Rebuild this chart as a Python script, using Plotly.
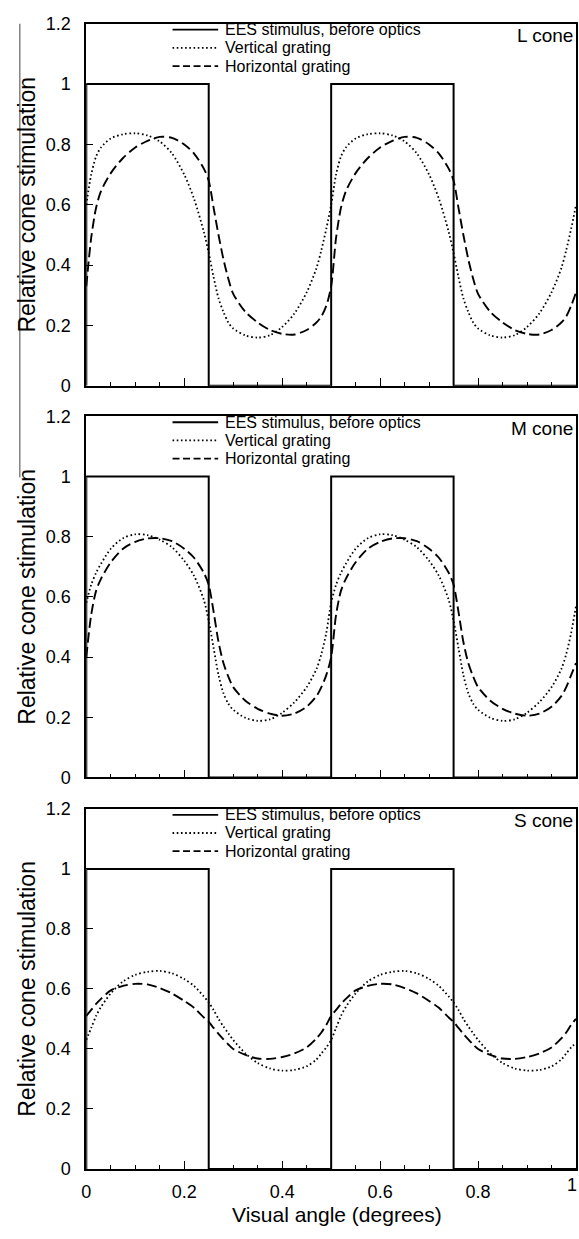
import plotly.graph_objects as go

# ---------------- data ----------------
ANGLE = [0, 0.01, 0.02, 0.03, 0.05, 0.075, 0.1, 0.125, 0.15, 0.175, 0.2, 0.22, 0.24, 0.25, 0.26, 0.27, 0.28, 0.29,
         0.3, 0.325, 0.35, 0.375, 0.4, 0.425, 0.45, 0.47, 0.48, 0.49,
         0.5, 0.51, 0.52, 0.53, 0.55, 0.575, 0.6, 0.625, 0.65, 0.675, 0.7, 0.72, 0.74, 0.75, 0.76, 0.77, 0.78, 0.79,
         0.8, 0.825, 0.85, 0.875, 0.9, 0.925, 0.95, 0.97, 0.98, 0.99, 1.0]

STIM_X = [0, 0, 0.25, 0.25, 0.5, 0.5, 0.75, 0.75, 1]
STIM_Y = [0, 1, 1, 0, 0, 1, 1, 0, 0]

L_VERT = [0.60, 0.70, 0.76, 0.79, 0.82, 0.834, 0.837, 0.83, 0.81, 0.77, 0.70, 0.62, 0.51, 0.44, 0.36, 0.29, 0.245, 0.21,
          0.19, 0.167, 0.16, 0.168, 0.195, 0.24, 0.31, 0.39, 0.45, 0.52,
          0.60, 0.70, 0.76, 0.79, 0.82, 0.834, 0.837, 0.83, 0.81, 0.77, 0.70, 0.62, 0.51, 0.44, 0.36, 0.29, 0.245, 0.21,
          0.19, 0.167, 0.16, 0.168, 0.195, 0.24, 0.31, 0.39, 0.45, 0.52, 0.60]
L_HORIZ = [0.33, 0.49, 0.59, 0.645, 0.705, 0.755, 0.79, 0.812, 0.825, 0.822, 0.80, 0.77, 0.72, 0.68, 0.59, 0.50, 0.42, 0.355,
           0.305, 0.245, 0.21, 0.185, 0.172, 0.17, 0.185, 0.21, 0.23, 0.265,
           0.33, 0.49, 0.59, 0.645, 0.705, 0.755, 0.79, 0.812, 0.825, 0.822, 0.80, 0.77, 0.72, 0.68, 0.59, 0.50, 0.42, 0.355,
           0.305, 0.245, 0.21, 0.185, 0.172, 0.17, 0.185, 0.21, 0.23, 0.265, 0.31]
M_VERT = [0.58, 0.64, 0.68, 0.71, 0.76, 0.795, 0.808, 0.805, 0.79, 0.765, 0.72, 0.67, 0.59, 0.52, 0.43, 0.34, 0.28, 0.245,
          0.225, 0.198, 0.188, 0.193, 0.215, 0.25, 0.30, 0.36, 0.41, 0.48,
          0.58, 0.64, 0.68, 0.71, 0.76, 0.795, 0.808, 0.805, 0.79, 0.765, 0.72, 0.67, 0.59, 0.52, 0.43, 0.34, 0.28, 0.245,
          0.225, 0.198, 0.188, 0.193, 0.215, 0.25, 0.30, 0.36, 0.41, 0.48, 0.57]
M_HORIZ = [0.40, 0.54, 0.62, 0.66, 0.715, 0.76, 0.783, 0.794, 0.795, 0.785, 0.76, 0.73, 0.68, 0.64, 0.55, 0.45, 0.38, 0.335,
           0.30, 0.255, 0.228, 0.212, 0.205, 0.212, 0.235, 0.27, 0.30, 0.34,
           0.40, 0.54, 0.62, 0.66, 0.715, 0.76, 0.783, 0.794, 0.795, 0.785, 0.76, 0.73, 0.68, 0.64, 0.55, 0.45, 0.38, 0.335,
           0.30, 0.255, 0.228, 0.212, 0.205, 0.212, 0.235, 0.27, 0.30, 0.34, 0.38]
S_VERT = [0.43, 0.47, 0.51, 0.54, 0.585, 0.625, 0.647, 0.657, 0.66, 0.652, 0.633, 0.61, 0.575, 0.555, 0.53, 0.50, 0.475, 0.452,
          0.43, 0.385, 0.353, 0.335, 0.328, 0.33, 0.342, 0.365, 0.385, 0.405,
          0.43, 0.47, 0.51, 0.54, 0.585, 0.625, 0.647, 0.657, 0.66, 0.652, 0.633, 0.61, 0.575, 0.555, 0.53, 0.50, 0.475, 0.452,
          0.43, 0.385, 0.353, 0.335, 0.328, 0.33, 0.342, 0.365, 0.385, 0.405, 0.42]
S_HORIZ = [0.51, 0.53, 0.55, 0.567, 0.595, 0.61, 0.617, 0.615, 0.603, 0.585, 0.56, 0.537, 0.505, 0.49, 0.47, 0.45, 0.432, 0.415,
           0.40, 0.38, 0.368, 0.367, 0.373, 0.385, 0.405, 0.435, 0.455, 0.48,
           0.51, 0.53, 0.55, 0.567, 0.595, 0.61, 0.617, 0.615, 0.603, 0.585, 0.56, 0.537, 0.505, 0.49, 0.47, 0.45, 0.432, 0.415,
           0.40, 0.38, 0.368, 0.367, 0.373, 0.385, 0.405, 0.435, 0.455, 0.48, 0.50]

CONE_LABELS = ["L cone", "M cone", "S cone"]
SERIES_NAMES = ["EES stimulus, before optics", "Vertical grating", "Horizontal grating"]
Y_TICKS = [0, 0.2, 0.4, 0.6, 0.8, 1, 1.2]
X_TICKS = [0, 0.2, 0.4, 0.6, 0.8, 1]
Y_TITLE = "Relative cone stimulation"
X_TITLE = "Visual angle (degrees)"

# ---------------- layout geometry ----------------
W, H = 579, 1239
FONT = "Liberation Sans, Arial, Helvetica, sans-serif"
PANELS_PX = [(14, 382), (413, 780), (812, 1178)]  # top, bottom of plot areas in px
X_LEFT, X_RIGHT = 82, 576

def px(xp):
    return xp / W

def py(yp):
    return 1 - yp / H

DOT = "1.6px,2.6px"
DASH = "10px,4.5px"

fig = go.Figure()
curves = [(L_VERT, L_HORIZ), (M_VERT, M_HORIZ), (S_VERT, S_HORIZ)]
for i, (vert, horiz) in enumerate(curves):
    xa = "x" if i == 0 else f"x{i+1}"
    ya = "y" if i == 0 else f"y{i+1}"
    fig.add_trace(go.Scatter(x=STIM_X, y=STIM_Y, mode="lines", xaxis=xa, yaxis=ya,
                             line=dict(color="black", width=2), name=SERIES_NAMES[0], showlegend=False))
    fig.add_trace(go.Scatter(x=ANGLE, y=vert, mode="lines", xaxis=xa, yaxis=ya,
                             line=dict(color="black", width=1.8, dash=DOT, shape="spline", smoothing=0.8),
                             name=SERIES_NAMES[1], showlegend=False))
    fig.add_trace(go.Scatter(x=ANGLE, y=horiz, mode="lines", xaxis=xa, yaxis=ya,
                             line=dict(color="black", width=1.9, dash=DASH, shape="spline", smoothing=0.8),
                             name=SERIES_NAMES[2], showlegend=False))

layout = dict(width=W, height=H, margin=dict(l=0, r=0, t=0, b=0),
              paper_bgcolor="white", plot_bgcolor="white",
              font=dict(family=FONT, color="black", size=16))

shapes = []
annotations = []
for i, (top, bot) in enumerate(PANELS_PX):
    sfx = "" if i == 0 else str(i + 1)
    last = (i == 2)
    layout["xaxis" + sfx] = dict(
        domain=[px(X_LEFT), px(X_RIGHT)], range=[0, 1], anchor="y" + sfx,
        showline=True, linecolor="black", linewidth=1.8, mirror=True,
        showgrid=False, zeroline=False,
        ticks="inside", ticklen=8, tickwidth=1.3, tickcolor="black",
        tickmode="array", tickvals=X_TICKS, ticktext=[f"{v:g}" for v in X_TICKS], showticklabels=last,
        tickfont=dict(size=18, family=FONT), ticklabelstandoff=6, fixedrange=True,
        minor=dict(dtick=0.05, ticks="inside", ticklen=4, tickwidth=1.1, tickcolor="black", showgrid=False),
    )
    layout["yaxis" + sfx] = dict(
        domain=[py(bot), py(top)], range=[0, 1.2], anchor="x" + sfx,
        showline=True, linecolor="black", linewidth=1.8, mirror=True,
        showgrid=False, zeroline=False,
        ticks="inside", ticklen=7, tickwidth=1.3, tickcolor="black",
        tickmode="array", tickvals=Y_TICKS, ticktext=[f"{v:g}" for v in Y_TICKS],
        tickfont=dict(size=18, family=FONT), ticklabelstandoff=10, fixedrange=True,
    )
    # y-axis title
    annotations.append(dict(text=Y_TITLE, x=px(22), y=py((top + bot) / 2), xref="paper", yref="paper",
                            textangle=-90, showarrow=False, xanchor="center", yanchor="middle",
                            font=dict(size=23, family=FONT)))
    # cone label
    annotations.append(dict(text=CONE_LABELS[i], x=px(575), y=py(top + 12), xref="paper", yref="paper",
                            showarrow=False, xanchor="right", yanchor="middle",
                            font=dict(size=19, family=FONT)))
    # manual legend
    rows = [top + 6, top + 24.5, top + 43]
    for r, ry in enumerate(rows):
        shapes.append(dict(type="line", xref="paper", yref="paper",
                           x0=px(169), x1=px(215), y0=py(ry), y1=py(ry),
                           line=dict(color="black", width=1.8,
                                     dash="solid" if r == 0 else (DOT if r == 1 else "7px,3.5px"))))
        annotations.append(dict(text=SERIES_NAMES[r], x=px(220), y=py(ry), xref="paper", yref="paper",
                                showarrow=False, xanchor="left", yanchor="middle",
                                font=dict(size=16, family=FONT)))

# the last x tick label ("1") sits at the page's right edge; place it as text so it is not dropped
annotations.append(dict(text=f"{X_TICKS[-1]:g}", x=X_TICKS[-1], xref="x3", y=py(1194), yref="paper",
                        xanchor="right", yanchor="middle", showarrow=False, xshift=3,
                        font=dict(size=18, family=FONT)))

annotations.append(dict(text=X_TITLE, x=px((X_LEFT + X_RIGHT) / 2 + 6), y=py(1224), xref="paper", yref="paper",
                        showarrow=False, xanchor="center", yanchor="middle", font=dict(size=21, family=FONT)))

# thin scan-edge line at the far left
shapes.append(dict(type="line", xref="paper", yref="paper", x0=px(15), x1=px(15), y0=py(14), y1=py(475),
                   line=dict(color="#444", width=1)))

layout["shapes"] = shapes
layout["annotations"] = annotations
fig.update_layout(**layout)
fig.write_html("out.html")
